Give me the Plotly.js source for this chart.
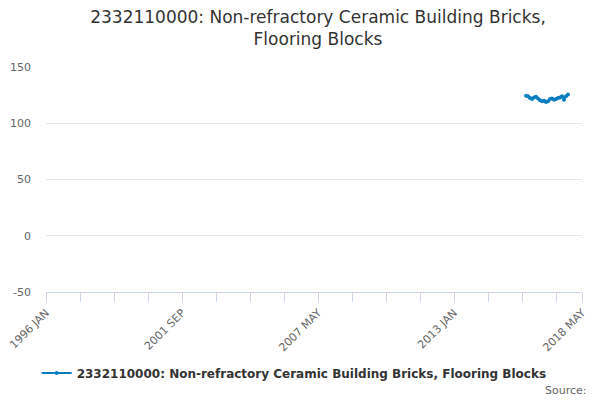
<!DOCTYPE html>
<html>
<head>
<meta charset="utf-8">
<script src="https://cdn.plot.ly/plotly-3.0.1.min.js"></script>
<style>html,body{margin:0;padding:0;background:#fff;}#chart{width:600px;height:400px;}</style>
</head>
<body>
<div id="chart"></div>
<script>
// Monthly categories 1996 JAN .. 2018 MAY
var monthNames = ["JAN","FEB","MAR","APR","MAY","JUN","JUL","AUG","SEP","OCT","NOV","DEC"];
var categories = [];
for (var y = 1996; y <= 2018; y++) {
  for (var m = 0; m < 12; m++) {
    if (y === 2018 && m > 4) break;
    categories.push(y + " " + monthNames[m]);
  }
}
// Observed series (2016 JAN .. 2017 OCT)
var seriesMonths = ["2016 JAN","2016 FEB","2016 MAR","2016 APR","2016 MAY","2016 JUN","2016 JUL","2016 AUG","2016 SEP","2016 OCT","2016 NOV","2016 DEC",
                    "2017 JAN","2017 FEB","2017 MAR","2017 APR","2017 MAY","2017 JUN","2017 JUL","2017 AUG","2017 SEP","2017 OCT"];
var seriesValues = [124.5, 124, 122.5, 121.5, 123, 123.5, 122, 120.5, 119.5, 120, 119, 119.5,
                    121.5, 122, 121, 121.5, 122.5, 123, 124, 121, 124, 125.5];
var tickLabels = ["1996 JAN","2001 SEP","2007 MAY","2013 JAN","2018 MAY"];
var yTicks = [-50, 0, 50, 100, 150];
var yTickText = ["-50", "0", "50", "100", "150"];
var seriesName = "2332110000: Non-refractory Ceramic Building Bricks, Flooring Blocks";

var minorTicks = [];
for (var i = 0; i < categories.length; i += 17) minorTicks.push(categories[i]);
minorTicks.push(categories[categories.length - 1]);

var trace = {
  x: seriesMonths,
  y: seriesValues,
  type: "scatter",
  mode: "lines+markers",
  name: seriesName,
  line: {color: "#0b7dc1", width: 2},
  marker: {color: "#0b7dc1", size: 4}
};

var layout = {
  width: 600, height: 400,
  font: {family: "DejaVu Sans, sans-serif", color: "#666"},
  title: {text: "2332110000: Non-refractory Ceramic Building Bricks,<br>Flooring Blocks",
          font: {size: 17, color: "#333", family: "DejaVu Sans, sans-serif"},
          x: 0.53, xanchor: "center", y: 0.9425, yanchor: "middle"},
  margin: {l: 46, r: 18, t: 67, b: 108},
  plot_bgcolor: "#fff", paper_bgcolor: "#fff",
  showlegend: true,
  legend: {orientation: "h", x: 0.463, xanchor: "center", y: -0.36, yanchor: "middle",
           itemwidth: 30,
           font: {size: 12, color: "#333", family: "DejaVu Sans, sans-serif", weight: "bold"}},
  xaxis: {
    type: "category",
    categoryorder: "array",
    categoryarray: categories,
    range: [0, categories.length - 1],
    tickmode: "array",
    tickvals: minorTicks,
    ticktext: minorTicks.map(function(c){ return tickLabels.indexOf(c) >= 0 ? c : ""; }),
    tickangle: -45,
    tickfont: {size: 11, color: "#666"},
    ticks: "outside", ticklen: 9, tickcolor: "#ccd6eb", tickwidth: 1,
    showline: true, linecolor: "#ccd6eb", linewidth: 1,
    showgrid: false, zeroline: false, fixedrange: true
  },
  yaxis: {
    range: [-50, 150],
    tickmode: "array",
    tickvals: yTicks,
    ticktext: yTickText,
    tickfont: {size: 11, color: "#666"},
    showgrid: true, gridcolor: "#e6e6e6", gridwidth: 1,
    zeroline: false, showline: false, ticks: "",
    ticklabelstandoff: 14
  },
  annotations: [{
    text: "Source:", xref: "paper", yref: "paper", x: 1.013, y: -0.436,
    xanchor: "right", yanchor: "middle", showarrow: false,
    font: {size: 11, color: "#666"}
  }]
};

Plotly.newPlot("chart", [trace], layout, {displayModeBar: false, staticPlot: true});
</script>
</body>
</html>
